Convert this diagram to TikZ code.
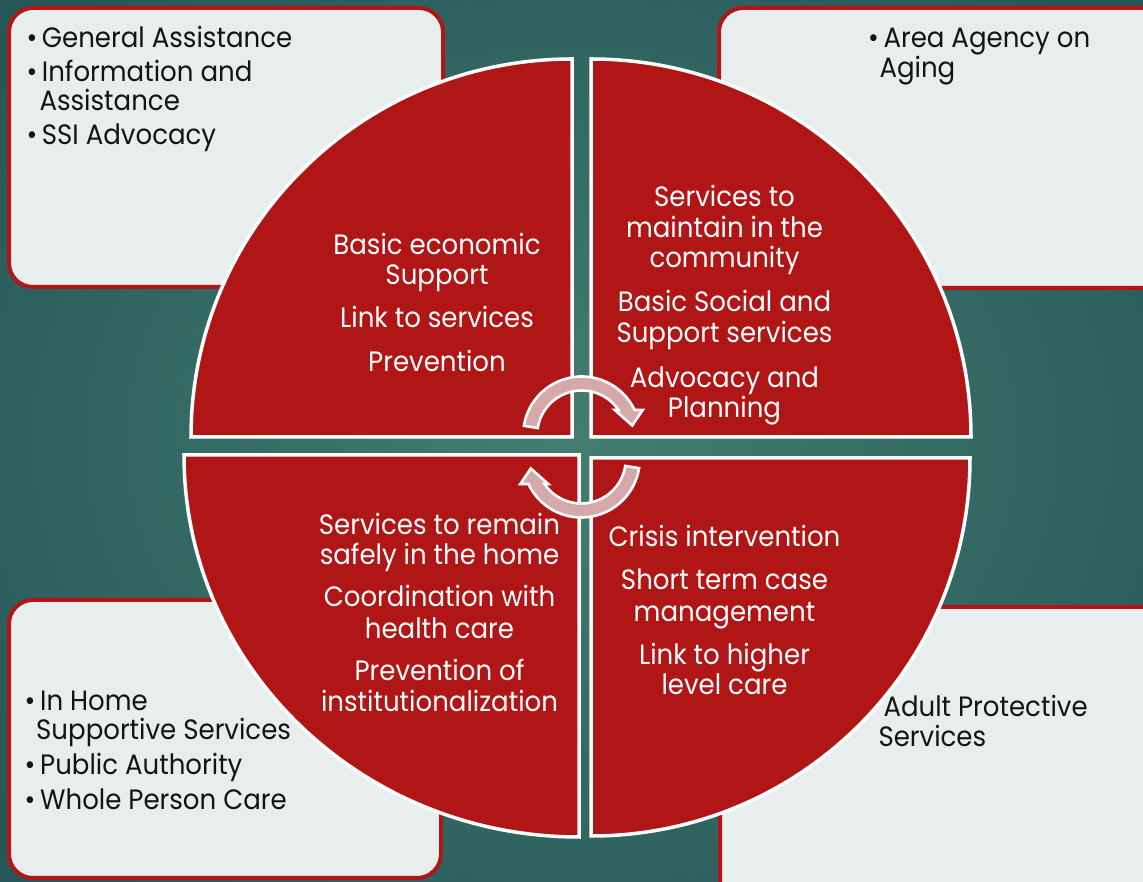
\documentclass[tikz,border=0pt]{standalone}
\usepackage{fontspec}
\setmainfont{Poppins}[FakeStretch=0.93]
\usetikzlibrary{calc}
\definecolor{quadred}{RGB}{176,22,22}
\definecolor{boxfill}{RGB}{232,237,237}
\definecolor{arrowpink}{RGB}{214,168,170}
\definecolor{tealin}{RGB}{68,126,112}
\definecolor{tealout}{RGB}{38,88,90}
\definecolor{inkblack}{RGB}{20,20,20}
\tikzset{
  sidebox/.style={draw=quadred, fill=boxfill, line width=4pt, rounded corners=24pt},
  quad/.style={fill=quadred, draw=white, line width=3.5pt, line join=miter},
  cyclearrow/.style={fill=arrowpink, draw=white, line width=2.6pt, line join=miter},
  wtext/.style={text=white, inner sep=0pt, anchor=base, font=\fontsize{28}{30}\selectfont},
  btext/.style={text=inkblack, inner sep=0pt, anchor=base west, font=\fontsize{28}{30}\selectfont},
  bul/.style={text=inkblack, inner sep=0pt, anchor=base, font=\fontsize{28}{30}\selectfont},
  cycarrow/.pic={
    \path[cyclearrow] (171:58.5) arc[start angle=171, end angle=25.3, radius=58.5]
      -- (61,25) -- (50.5,9.5) -- (33,25) -- (34.2:44.5)
      arc[start angle=34.2, end angle=171, radius=44.5] -- cycle;
  }
}
\begin{document}
\begin{tikzpicture}[x=1pt,y=1pt]
\useasboundingbox (0,0) rectangle (1143,882);
\clip (0,0) rectangle (1143,882);
% background
\shade[inner color=tealin, outer color=tealout] (-150,-150) rectangle (1293,1032);

% corner boxes
\path[sidebox] (9,595) rectangle (443,874);
\path[sidebox] (719,594) rectangle (1170,874);
\path[sidebox] (9,4) rectangle (441,282);
\path[sidebox] (720,-23) rectangle (1170,275);

% quadrants
\path[quad] (572,445) -- (191,445) arc[start angle=180, end angle=90, x radius=381, y radius=378] -- cycle;
\path[quad] (591,445) -- (591,823) arc[start angle=90, end angle=0, x radius=380, y radius=378] -- cycle;
\path[quad] (579,427) -- (184,427) arc[start angle=180, end angle=270, x radius=395, y radius=382] -- cycle;
\path[quad] (591,424) -- (970,424) arc[start angle=0, end angle=-90, x radius=379, y radius=378] -- cycle;

% cycle arrows
\pic (arrowtop) at (581.7,447) {cycarrow};
\pic[rotate=180] (arrowbottom) at (581.3,423) {cycarrow};

% quadrant texts
\node[wtext] (q1a) at (437,627) {Basic economic};
\node[wtext] (q1b) at (437,597) {Support};
\node[wtext] (q1c) at (437,554) {Link to services};
\node[wtext] (q1d) at (437,510) {Prevention};

\node[wtext] (q2a) at (724.5,675) {Services to};
\node[wtext] (q2b) at (724.5,644) {maintain in the};
\node[wtext] (q2c) at (724.5,614) {community};
\node[wtext] (q2d) at (724.5,570) {Basic Social and};
\node[wtext] (q2e) at (724.5,539) {Support services};
\node[wtext] (q2f) at (724.5,494) {Advocacy and};
\node[wtext] (q2g) at (724.5,464) {Planning};

\node[wtext] (q3a) at (439.5,347) {Services to remain};
\node[wtext] (q3b) at (439.5,317) {safely in the home};
\node[wtext] (q3c) at (439.5,275) {Coordination with};
\node[wtext] (q3d) at (439.5,243) {health care};
\node[wtext] (q3e) at (439.5,201) {Prevention of};
\node[wtext] (q3f) at (439.5,170) {institutionalization};

\node[wtext] (q4a) at (724.5,335) {Crisis intervention};
\node[wtext] (q4b) at (724.5,292) {Short term case};
\node[wtext] (q4c) at (724.5,260) {management};
\node[wtext] (q4d) at (724.5,217) {Link to higher};
\node[wtext] (q4e) at (724.5,187) {level care};

% box texts
\node[bul] (b1a) at (32,834.3) {•};
\node[btext] (t1a) at (41.7,834.3) {General Assistance};
\node[bul] (b1b) at (32,800.3) {•};
\node[btext] (t1b) at (41.7,800.3) {Information and};
\node[btext] (t1c) at (39.3,771.3) {Assistance};
\node[bul] (b1d) at (32,737) {•};
\node[btext] (t1d) at (41.7,737) {SSI Advocacy};

\node[bul] (b2a) at (873.5,834.7) {•};
\node[btext] (t2a) at (883.3,834.7) {Area Agency on};
\node[btext] (t2b) at (879.3,804.7) {Aging};

\node[bul] (b3a) at (30,171.3) {•};
\node[btext] (t3a) at (40,171.3) {In Home};
\node[btext] (t3b) at (36,142) {Supportive Services};
\node[bul] (b3c) at (30,107.7) {•};
\node[btext] (t3c) at (40,107.7) {Public Authority};
\node[bul] (b3d) at (30,72.7) {•};
\node[btext] (t3d) at (40,72.7) {Whole Person Care};

\node[btext] (t4a) at (883.3,165.3) {Adult Protective};
\node[btext] (t4b) at (878.3,135.3) {Services};
\end{tikzpicture}
\end{document}
